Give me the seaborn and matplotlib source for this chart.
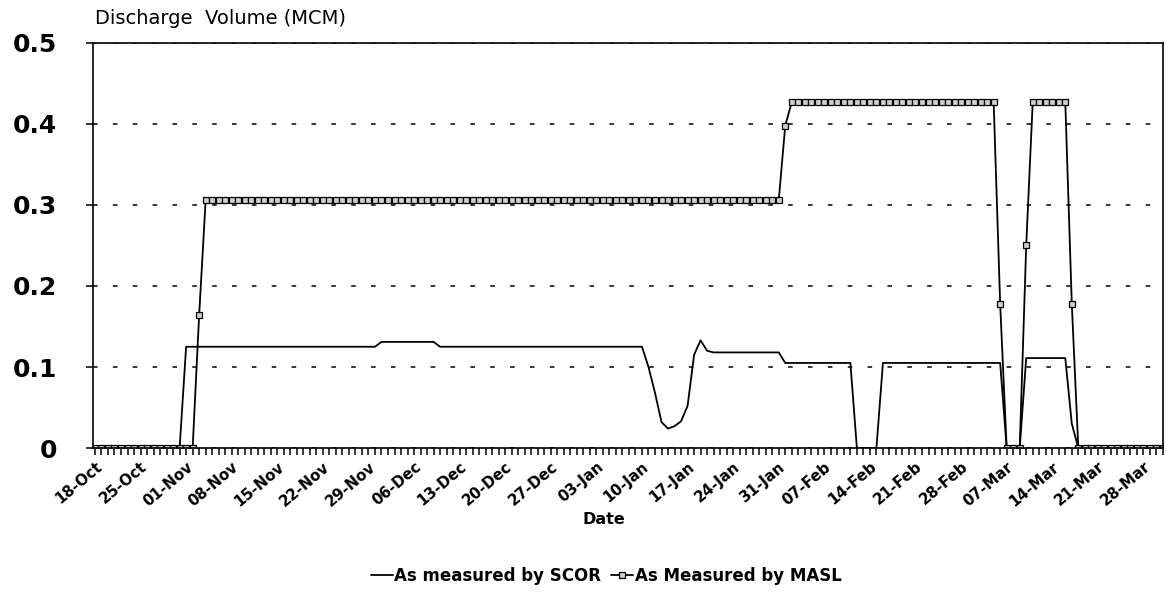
import pandas as pd
import matplotlib.pyplot as plt
import matplotlib.lines as mlines
import seaborn as sns

START_DATE = "1994-10-18"

# daily volumes; flat stretches written as runs
scor = ([0.0] * 14 + [0.125] * 30 + [0.131] * 9 + [0.125] * 32
        + [0.100, 0.068, 0.032, 0.024, 0.027, 0.033, 0.052, 0.115, 0.133, 0.120]
        + [0.118] * 11 + [0.105] * 11 + [0.0] * 4 + [0.105] * 19
        + [0.0] * 3 + [0.111] * 7 + [0.03] + [0.0] * 14)
masl = ([0.0] * 16 + [0.164] + [0.306] * 89 + [0.398] + [0.427] * 32 + [0.178]
        + [0.0] * 3 + [0.25] + [0.427] * 6 + [0.178] + [0.0] * 14)

y_ticks = [0, 0.1, 0.2, 0.3, 0.4, 0.5]
y_labels = ["0", "0.1", "0.2", "0.3", "0.4", "0.5"]
series_names = ["As measured by SCOR", "As Measured by MASL"]


def make_chart():
    sns.set_style("ticks")
    plt.rcParams['font.family'] = ['DejaVu Sans']
    plt.rcParams['text.color'] = 'black'
    plt.rcParams['axes.labelcolor'] = 'black'
    plt.rcParams['xtick.color'] = 'black'
    plt.rcParams['ytick.color'] = 'black'

    dates = pd.date_range(START_DATE, periods=len(scor), freq="D")
    df = pd.DataFrame({"Date": dates, "SCOR": scor, "MASL": masl})

    fig, ax = plt.subplots(figsize=(11.66, 6.02), dpi=100)
    fig.subplots_adjust(left=0.0798, right=0.9974, top=0.9286, bottom=0.2558)

    sns.lineplot(data=df, x="Date", y="SCOR", color="black", lw=1.3, ax=ax)
    sns.lineplot(data=df, x="Date", y="MASL", color="black", lw=1.3, marker="s",
                 markersize=5, markerfacecolor="#cfcfcf", markeredgecolor="black",
                 markeredgewidth=0.9, ax=ax)

    ax.set_xlim(dates[0] - pd.Timedelta(hours=7), dates[-1])
    ax.set_ylim(0, 0.5)

    week_ticks = dates[::7]
    ax.set_xticks(week_ticks)
    ax.set_xticklabels([d.strftime("%d-%b") for d in week_ticks], rotation=40,
                       ha="right", va="top", rotation_mode="anchor",
                       fontsize=10.8, fontweight="bold")
    ax.set_xticks(dates, minor=True)
    ax.tick_params(axis="x", which="both", direction="out", length=5, width=1.1, pad=3)

    ax.set_yticks(y_ticks)
    ax.set_yticklabels(y_labels, fontsize=18, fontweight="bold")
    ax.tick_params(axis="y", direction="out", length=5, width=1.1, pad=21)

    ax.yaxis.grid(True, linestyle=(0, (3, 10)), color="black", lw=1.1)
    for side in ["top", "right", "left", "bottom"]:
        ax.spines[side].set_visible(True)
        ax.spines[side].set_linewidth(1.2)
        ax.spines[side].set_color("black")

    ax.set_ylabel("")
    ax.set_xlabel("Date", fontsize=11.5, fontweight="bold")
    ax.xaxis.set_label_coords(0.477, -0.158)

    fig.text(0.0815, 0.970, "Discharge  Volume (MCM)", fontsize=14,
             ha="left", va="center")

    handles = [
        mlines.Line2D([], [], color="black", lw=1.3),
        mlines.Line2D([], [], color="black", lw=1.3, marker="s", markersize=5,
                      markerfacecolor="#cfcfcf", markeredgecolor="black",
                      markeredgewidth=0.9),
    ]
    fig.legend(handles, series_names, loc="center", bbox_to_anchor=(0.52, 0.043),
               ncol=2, frameon=False, handlelength=1.3, handletextpad=0.1,
               columnspacing=0.6, prop={"size": 12, "weight": "bold"})

    fig.savefig("out.png", dpi=100)


if __name__ == "__main__":
    make_chart()
